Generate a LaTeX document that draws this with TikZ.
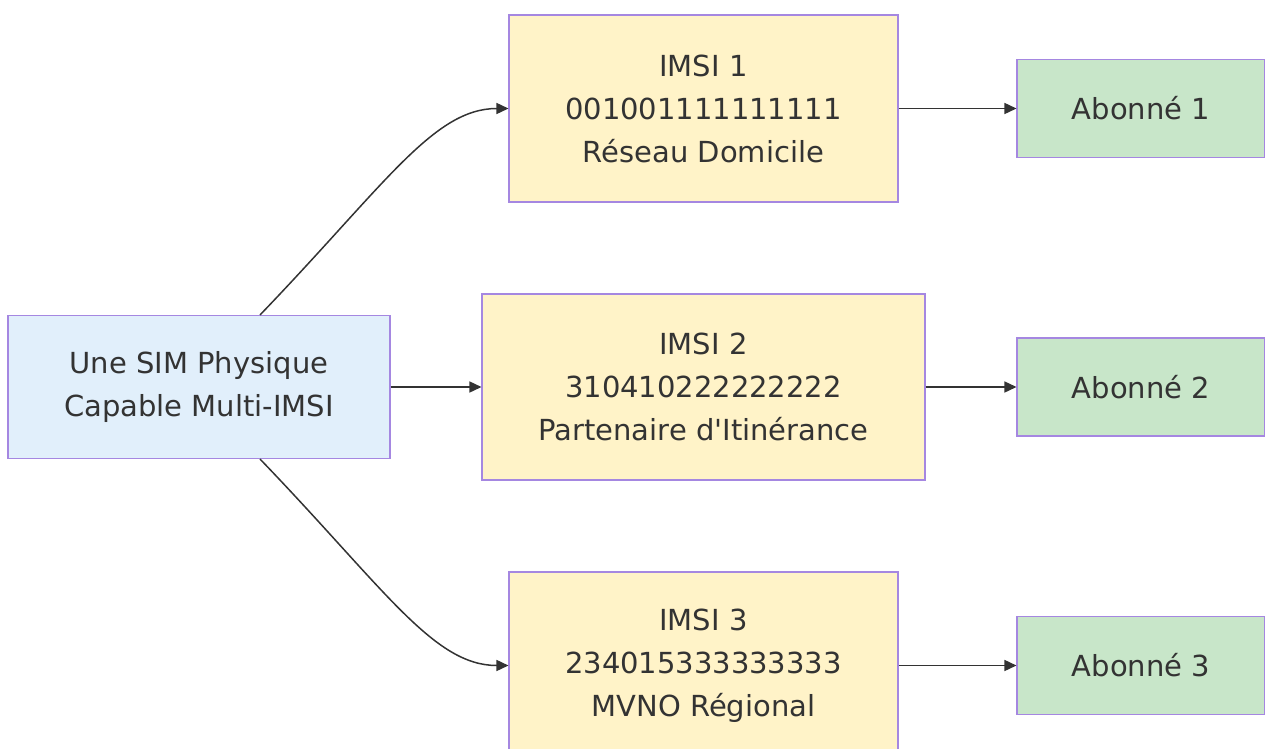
\documentclass[tikz,border=0pt]{standalone}
\usepackage{fontspec}
\setmainfont{DejaVu Sans}
\usepackage{tikz}
\usetikzlibrary{arrows.meta,positioning}
\usepackage{xcolor}
\definecolor{simblue}{RGB}{225,239,251}
\definecolor{imsiyellow}{RGB}{255,243,200}
\definecolor{subgreen}{RGB}{200,230,201}
\definecolor{edgelilac}{RGB}{165,135,225}
\definecolor{txtgray}{RGB}{51,51,51}
\definecolor{linegray}{RGB}{51,51,51}

\begin{document}
\begin{tikzpicture}[
    box/.style={draw=edgelilac, line width=0.6pt, align=center, text=txtgray,
                inner sep=0pt, font=\fontsize{16.5}{24.5}\selectfont},
    sim/.style={box, fill=simblue, minimum width=7.64cm, minimum height=2.86cm},
    imsi/.style={box, fill=imsiyellow, minimum width=7.78cm, minimum height=3.74cm},
    subscriber/.style={box, fill=subgreen, minimum width=4.96cm, minimum height=1.96cm},
    arr/.style={-{Triangle[length=2.4mm,width=2.2mm]}, line width=0.85pt, draw=linegray}
]
\useasboundingbox (0,0) rectangle (25.3,-14.98);

% SIM
\node[sim] (sim) at (3.98,-7.74) {Une SIM Physique\\Capable Multi-IMSI};

% IMSI profiles
\node[imsi] (imsi1) at (14.07,-2.17) {IMSI 1\\001001111111111\\Réseau Domicile};
\node[imsi, minimum width=8.86cm, minimum height=3.72cm] (imsi2) at (14.07,-7.74)
    {IMSI 2\\310410222222222\\Partenaire d\textquotesingle Itinérance};
\node[imsi] (imsi3) at (14.07,-13.31) {IMSI 3\\234015333333333\\MVNO Régional};

% Subscribers
\node[subscriber] (ab1) at (22.82,-2.17) {Abonné 1};
\node[subscriber] (ab2) at (22.82,-7.74) {Abonné 2};
\node[subscriber] (ab3) at (22.82,-13.31) {Abonné 3};

% Arrows
\draw[arr] ([xshift=1.22cm]sim.north) .. controls +(2.5,2.6) and +(-1.5,0) .. (imsi1.west);
\draw[arr] (sim) -- (imsi2);
\draw[arr] ([xshift=1.22cm]sim.south) .. controls +(2.5,-2.6) and +(-1.5,0) .. (imsi3.west);
\foreach \i in {1,2,3} {
  \draw[arr] (imsi\i) -- (ab\i);
}

\end{tikzpicture}
\end{document}
